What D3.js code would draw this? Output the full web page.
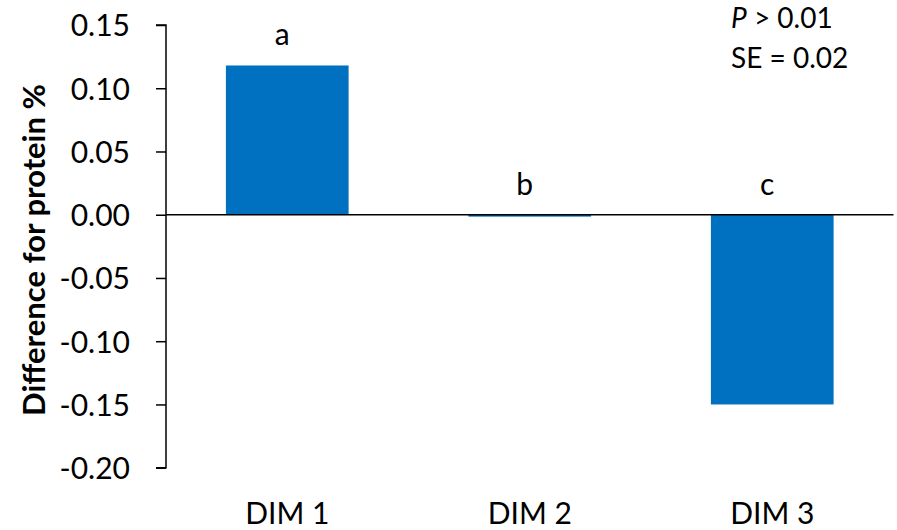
<!DOCTYPE html>
<html><head><meta charset="utf-8">
<script src="https://cdn.jsdelivr.net/npm/d3@7"></script>
<style>body{margin:0;background:#fff}svg{display:block}text{font-family:Lato,"Open Sans",sans-serif;fill:#000}</style>
</head><body>
<svg id="c" width="897" height="530"></svg>
<script>
const categories = ["DIM 1", "DIM 2", "DIM 3"];
const values = [0.118, -0.0015, -0.150];
const letters = ["a", "b", "c"];
const yTicks = [0.15, 0.10, 0.05, 0.00, -0.05, -0.10, -0.15, -0.20];
const yTitle = "Difference for protein %";

const svg = d3.select("#c");
const x = d3.scaleBand().domain(categories).range([166, 893.5]).paddingInner(0.494).paddingOuter(0.247);
const y = d3.scaleLinear().domain([-0.20, 0.15]).range([467.7, 25]);
const fmt = d => (d < -1e-9 ? "-" : "") + Math.abs(d).toFixed(2);

// y axis
const yAxis = svg.append("g").attr("transform", "translate(166,0)")
  .call(d3.axisLeft(y).tickValues(yTicks).tickSize(10).tickPadding(26).tickFormat(fmt));
yAxis.select(".domain").attr("stroke", "#000").attr("stroke-width", 1.5).attr("d", "M-10," + y(0.15) + "H0V" + y(-0.20) + "H-10");
yAxis.selectAll(".tick line").attr("stroke", "#000").attr("stroke-width", 1.5);
yAxis.selectAll(".tick text").attr("font-size", 30).attr("font-family", "Lato").attr("fill", "#000").attr("dy", "0.36em");

// bars
svg.append("g").selectAll("rect").data(values).join("rect")
  .attr("x", (d, i) => x(categories[i]))
  .attr("width", x.bandwidth())
  .attr("y", d => y(Math.max(0, d)))
  .attr("height", d => Math.abs(y(d) - y(0)))
  .attr("fill", "#0070C0");

// x axis line at zero
svg.append("line").attr("x1", 166).attr("x2", 893.5).attr("y1", y(0)).attr("y2", y(0))
  .attr("stroke", "#000").attr("stroke-width", 1.5);

// category labels
svg.append("g").selectAll("text").data(categories).join("text")
  .attr("x", d => x(d) + x.bandwidth() / 2).attr("y", 524)
  .attr("text-anchor", "middle").attr("font-size", 30).text(d => d);

// significance letters
svg.append("g").selectAll("text").data(values).join("text")
  .attr("x", (d, i) => x(categories[i]) + x.bandwidth() / 2 - 5)
  .attr("y", d => y(Math.max(0, d)) - 20)
  .attr("text-anchor", "middle").attr("font-size", 30).text((d, i) => letters[i]);

// y title
svg.append("text").attr("transform", "translate(45,250) rotate(-90)")
  .attr("text-anchor", "middle").attr("font-size", 31).attr("font-weight", "bold").text(yTitle);

// annotation
const ann = svg.append("g");
const t1 = ann.append("text").attr("x", 731).attr("y", 28).attr("font-size", 28);
t1.append("tspan").attr("font-style", "italic").text("P");
t1.append("tspan").text(" > 0.01");
ann.append("text").attr("x", 731).attr("y", 68).attr("font-size", 28).text("SE = 0.02");
</script>
</body></html>
